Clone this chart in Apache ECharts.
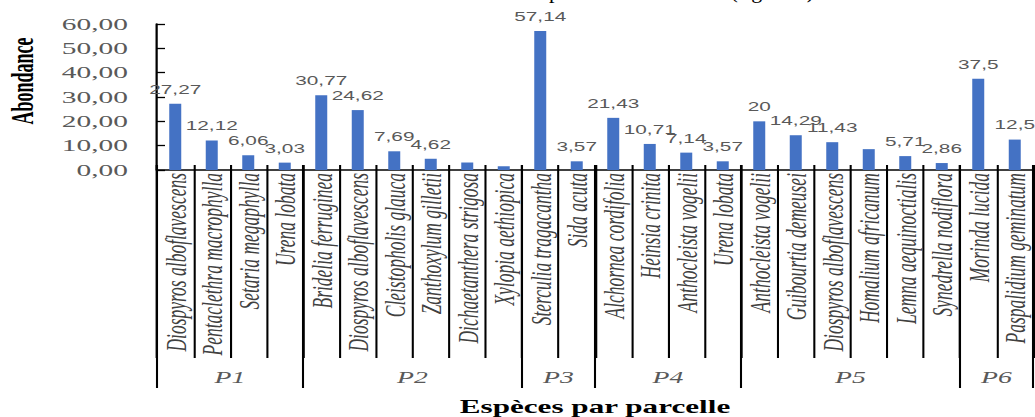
<!DOCTYPE html>
<html>
<head>
<meta charset="utf-8">
<script src="https://cdn.jsdelivr.net/npm/echarts@6/dist/echarts.min.js"></script>
<style>
  html, body { margin: 0; padding: 0; background: #fff; overflow: hidden; }
  #wrap { width: 1035px; height: 417px; overflow: hidden; }
  /* the figure is laid out in a narrower frame and widened horizontally */
  #chart { width: 598px; height: 417px; transform: scaleX(1.730769); transform-origin: 0 0; }
</style>
</head>
<body>
<div id="wrap"><div id="chart"></div></div>
<script>
// species per plot (category axis)
const categories = [
  'Diospyros alboflavescens', 'Pentaclethra macrophylla', 'Setaria megaphylla', 'Urena lobata',
  'Bridelia ferruginea', 'Diospyros alboflavescens', 'Cleistopholis glauca', 'Zanthoxylum gilletii',
  'Dichaetanthera strigosa', 'Xylopia aethiopica',
  'Sterculia tragacantha', 'Sida acuta',
  'Alchornea cordifolia', 'Heinsia crinita', 'Anthocleista vogelii', 'Urena lobata',
  'Anthocleista vogelii', 'Guibourtia demeusei', 'Diospyros alboflavescens', 'Homalium africanum',
  'Lemna aequinoctialis', 'Synedrella nodiflora',
  'Morinda lucida', 'Paspalidium geminatum'
];
// plots and how many species each holds
const plots = ['P1', 'P2', 'P3', 'P4', 'P5', 'P6'];
const plotSizes = [4, 6, 2, 4, 6, 2];
// abundance (%)
const abundance = [
  27.27, 12.12, 6.06, 3.03,
  30.77, 24.62, 7.69, 4.62, 3.08, 1.54,
  57.14, 3.57,
  21.43, 10.71, 7.14, 3.57,
  20, 14.29, 11.43, 8.57, 5.71, 2.86,
  37.5, 12.5
];
// bars printed without a value label
const unlabeled = [8, 9, 19];
// value axis
const yMin = 0, yMax = 60, yStep = 10;

const W = 598, H = 417;
const SX = 1035 / W;           // horizontal widening factor
const px = v => v / SX;        // page pixels -> frame units (horizontal)
const comma = v => String(v).replace('.', ',');

const chart = echarts.init(document.getElementById('chart'), null, { renderer: 'svg', width: W, height: H });

const axisBlack = { color: '#000', width: 1.2 };

chart.setOption({
  animation: false,
  backgroundColor: '#fff',
  grid: { left: px(157), right: W - px(1033), top: 24, bottom: H - 170, containLabel: false },
  xAxis: [
    {
      type: 'category',
      data: categories,
      axisLine: { show: true, lineStyle: { color: '#000', width: 1.5 } },
      axisTick: { show: true, interval: 0, length: 188, lineStyle: axisBlack },
      axisLabel: {
        interval: 0, rotate: 90, margin: 3,
        fontFamily: 'Liberation Serif', fontStyle: 'italic', fontSize: 17.5, color: '#404040'
      }
    },
    {
      type: 'category',
      data: categories,
      position: 'bottom',
      offset: 0,
      axisLine: { show: false },
      axisTick: { show: true, inside: true, interval: 0, length: 5, lineStyle: axisBlack },
      axisLabel: { show: false }
    }
  ],
  yAxis: {
    type: 'value',
    min: yMin, max: yMax, interval: yStep,
    axisLine: { show: true, lineStyle: { color: '#000', width: 1.3 } },
    axisTick: { show: true, inside: true, length: px(8), lineStyle: { color: '#000', width: 1.3 } },
    splitLine: { show: false },
    axisLabel: {
      margin: px(29),
      formatter: v => v.toFixed(2).replace('.', ','),
      fontFamily: 'Liberation Serif', fontSize: 17, color: '#595959'
    }
  },
  series: [{
    type: 'bar',
    xAxisIndex: 0,
    barWidth: px(12),
    itemStyle: { color: '#4472C4' },
    label: {
      show: true, position: 'top', distance: 8,
      formatter: p => comma(p.value),
      fontFamily: 'Liberation Sans', fontSize: 12, color: '#595959'
    },
    data: abundance.map((v, i) => ({ value: v, label: { show: !unlabeled.includes(i) } }))
  }]
});

// plot brackets under the species labels, placed on the category scale
const c0 = chart.convertToPixel({ xAxisIndex: 0 }, 0);
const c1 = chart.convertToPixel({ xAxisIndex: 0 }, 1);
const band = c1 - c0;
const edge = k => c0 - band / 2 + k * band;

const graphics = [];
let start = 0;
const edges = [0];
plotSizes.forEach(n => { start += n; edges.push(start); });
edges.forEach(k => {
  graphics.push({
    type: 'line', silent: true,
    shape: { x1: edge(k), y1: 165, x2: edge(k), y2: 388 },
    style: { stroke: '#000', lineWidth: 1.2 }
  });
});
plots.forEach((name, i) => {
  graphics.push({
    type: 'text', silent: true,
    x: (edge(edges[i]) + edge(edges[i + 1])) / 2, y: 378,
    style: {
      text: name, fontFamily: 'Liberation Serif', fontStyle: 'italic', fontSize: 16,
      fill: '#595959', align: 'center', verticalAlign: 'middle'
    }
  });
});
// axis titles
graphics.push({
  type: 'text', silent: true,
  x: px(22.5), y: 81, rotation: Math.PI / 2,
  style: {
    text: 'Abondance', fontFamily: 'Liberation Serif', fontWeight: 'bold', fontSize: 18,
    fill: '#000', align: 'center', verticalAlign: 'middle'
  }
});
graphics.push({
  type: 'text', silent: true,
  x: (edge(0) + edge(categories.length)) / 2, y: 406.5,
  style: {
    text: 'Espèces par parcelle', fontFamily: 'Liberation Serif', fontWeight: 'bold', fontSize: 18,
    fill: '#000', align: 'center', verticalAlign: 'middle'
  }
});
// running text above the figure, cut by the top edge
graphics.push({
  type: 'text', silent: true,
  x: px(549), y: -9.5, scaleX: 1 / SX,
  style: {
    text: 'parcelle est illustrée (figure 4)', fontFamily: 'Liberation Serif', fontSize: 22,
    fill: '#000', align: 'left', verticalAlign: 'middle'
  }
});

chart.setOption({ graphic: graphics });
</script>
</body>
</html>
